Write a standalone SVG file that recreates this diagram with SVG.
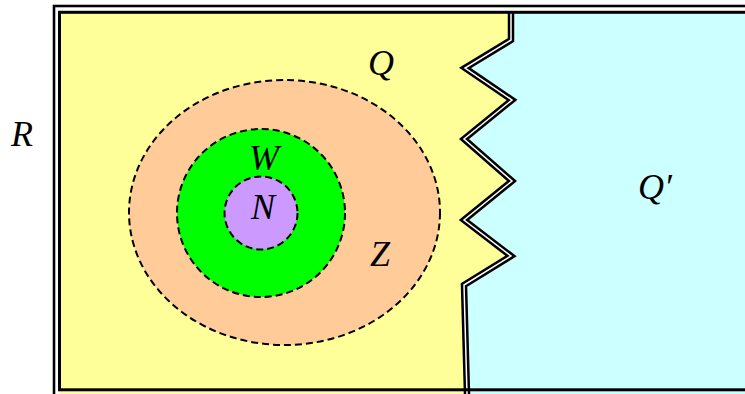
<svg xmlns="http://www.w3.org/2000/svg" width="745" height="394" viewBox="0 0 745 394">
<style>
.lbl{font-family:"Liberation Serif","Times New Roman",serif;font-style:italic;font-size:36px;fill:#000;text-anchor:middle}
.dash{stroke:#000;stroke-width:2;stroke-dasharray:7,4}
.frame{fill:none;stroke:#000}
</style>
<rect width="745" height="394" fill="#fff"/>
<g id="R">
<rect x="54" y="6" width="720" height="400" fill="#fff" class="frame" stroke-width="2.6"/>
<rect x="59.5" y="12.3" width="700" height="382" fill="#FFFF99"/>
<text class="lbl" x="22" y="146">R</text>
</g>
<g id="Qprime">
<polygon points="511,12 511,40 465,68 512,100 464,139 512,181 464,220 511,256 464,285 467,394 745,394 745,12" fill="#CCFFFF"/>
<text class="lbl" x="655" y="199">Q′</text>
</g>
<g id="boundary">
<polyline points="511,12 511,40 465,68 512,100 464,139 512,181 464,220 511,256 464,285 467,394" fill="none" stroke="#000" stroke-width="6.5" stroke-linejoin="miter"/>
<polyline points="511,12 511,40 465,68 512,100 464,139 512,181 464,220 511,256 464,285 467,394" fill="none" stroke="#fff" stroke-width="1.5" stroke-linejoin="miter"/>
</g>
<g id="frame-lines">
<rect x="59.5" y="12.3" width="720" height="377.5" class="frame" stroke-width="3"/>
</g>
<g id="Q">
<text class="lbl" x="381" y="75">Q</text>
</g>
<g id="Z">
<ellipse cx="284.5" cy="212.5" rx="155.5" ry="132.5" fill="#FFCC99" class="dash"/>
<text class="lbl" x="380" y="266">Z</text>
</g>
<g id="W">
<circle cx="261" cy="213" r="84" fill="#00FF00" class="dash"/>
<text class="lbl" x="264" y="170">W</text>
</g>
<g id="N">
<circle cx="261" cy="213" r="36.5" fill="#CC99FF" class="dash"/>
<text class="lbl" x="263" y="219">N</text>
</g>
<g id="connectors"></g>
</svg>
